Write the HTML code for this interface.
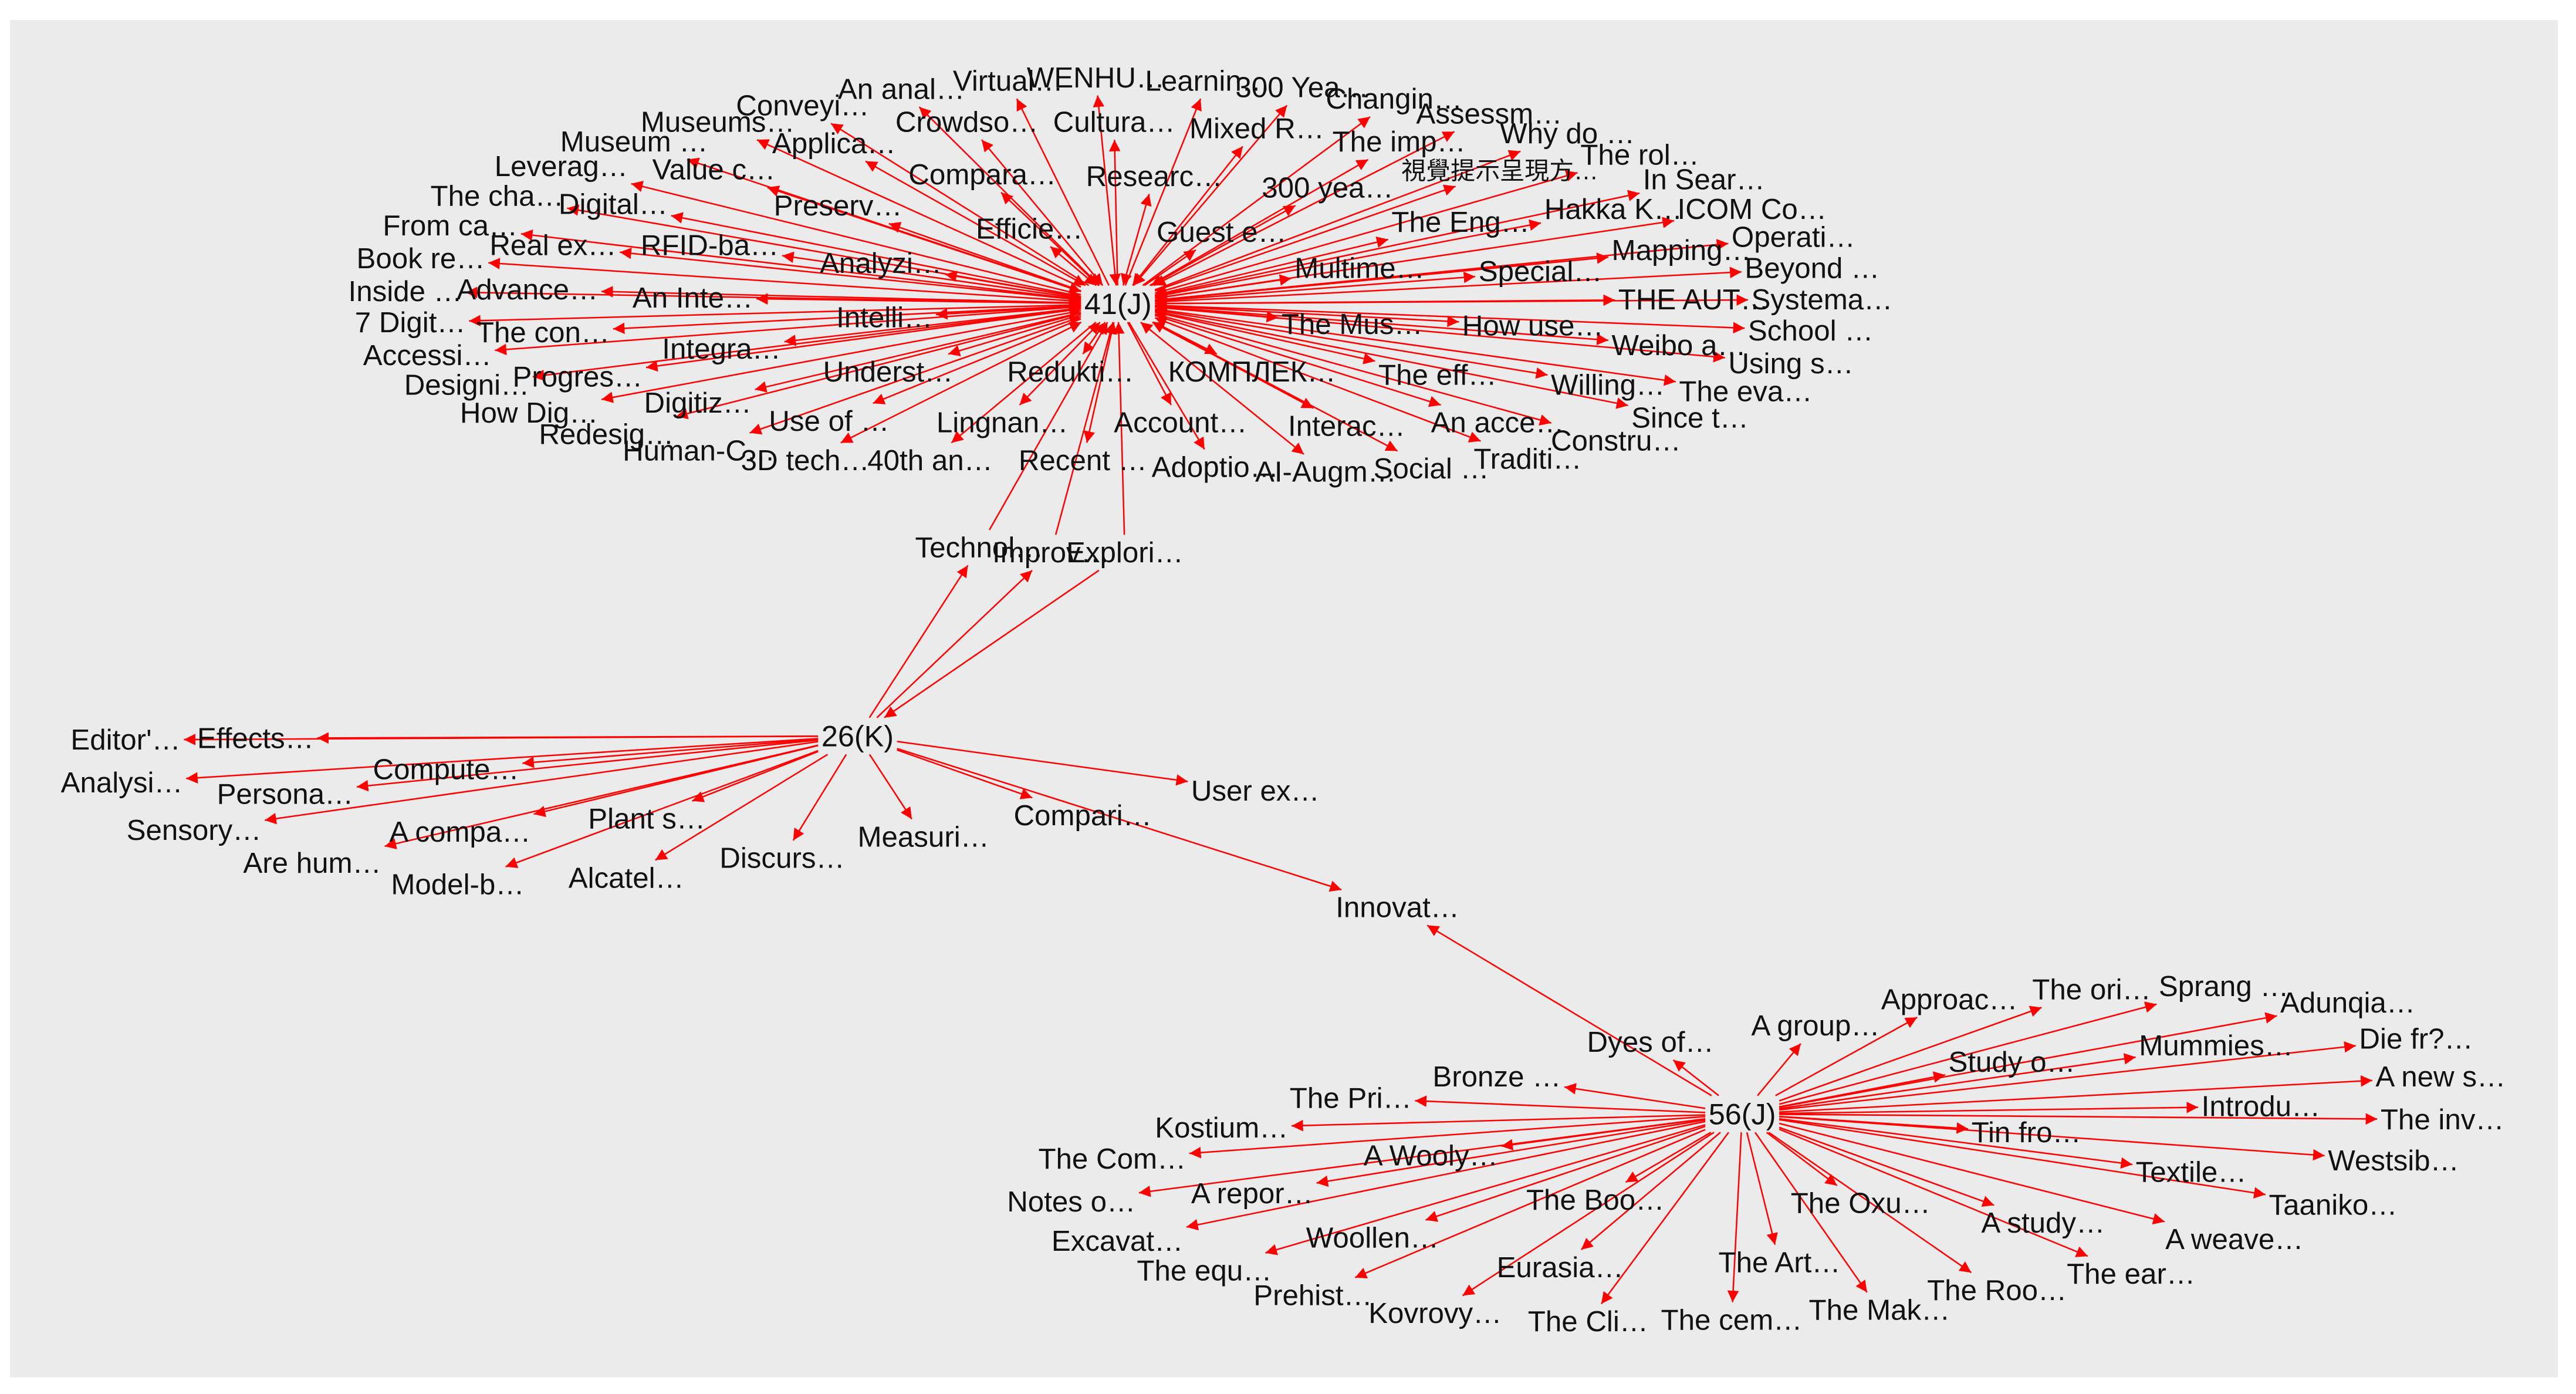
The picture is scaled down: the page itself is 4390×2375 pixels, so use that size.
<!DOCTYPE html>
<html><head><meta charset="utf-8"><style>
html,body{margin:0;padding:0;background:#fff}
svg{display:block}
text{font-family:"Liberation Sans","Noto Sans CJK TC",sans-serif;font-size:17.6px;fill:#111}
.hub{font-size:18px}
</style></head><body>
<svg id="s" width="4390" height="2375" viewBox="0 0 1568 848" xmlns="http://www.w3.org/2000/svg">
<defs>
<marker id="a" viewBox="0 0 10 10" refX="10" refY="5" markerWidth="7" markerHeight="7" orient="auto-start-reverse" markerUnits="userSpaceOnUse"><path d="M0,0 L10,5 L0,10 z" fill="#f00"/></marker>
</defs>
<rect x="6" y="12" width="1551" height="826" fill="#ebebeb"/>
<g id="lines" stroke="#f00" stroke-width="0.9" fill="none"></g>
<g id="t">
<text class="hub" id="h41" x="660" y="191">41(J)</text>
<text class="hub" id="h26" x="500" y="454">26(K)</text>
<text class="hub" id="h56" x="1040" y="684">56(J)</text>
<text id="technol" x="557" y="339">Technol…</text>
<text id="improv" x="604" y="342">Improv…</text>
<text id="explori" x="649" y="342">Explori…</text>
<text id="innovat" x="813" y="558">Innovat…</text>

<text class="c41" x="510" y="60">An anal…</text>
<text class="c41" x="580" y="55">Virtual…</text>
<text class="c41" x="625" y="53">WENHU…</text>
<text class="c41" x="697" y="55">Learnin…</text>
<text class="c41" x="752" y="59">300 Yea…</text>
<text class="c41" x="448" y="70">Conveyi…</text>
<text class="c41" x="545" y="80">Crowdso…</text>
<text class="c41" x="641" y="80">Cultura…</text>
<text class="c41" x="724" y="84">Mixed R…</text>
<text class="c41" x="807" y="66">Changin…</text>
<text class="c41" x="862" y="75">Assessm…</text>
<text class="c41" x="390" y="80">Museums…</text>
<text class="c41" x="470" y="93">Applica…</text>
<text class="c41" x="913" y="87">Why do …</text>
<text class="c41" x="341" y="92">Museum …</text>
<text class="c41" x="811" y="92">The imp…</text>
<text class="c41" x="962" y="100">The rol…</text>
<text class="c41" x="301" y="107">Leverag…</text>
<text class="c41" x="397" y="109">Value c…</text>
<text class="c41" x="553" y="112">Compara…</text>
<text class="c41" x="661" y="113">Researc…</text>
<text class="c41" x="853" y="109" style="font-size:15px">視覺提示呈現方…</text>
<text class="c41" x="1000" y="115">In Sear…</text>
<text class="c41" x="262" y="125">The cha…</text>
<text class="c41" x="340" y="130">Digital…</text>
<text class="c41" x="471" y="131">Preserv…</text>
<text class="c41" x="768" y="120">300 yea…</text>
<text class="c41" x="940" y="133">Hakka K…</text>
<text class="c41" x="1021" y="133">ICOM Co…</text>
<text class="c41" x="233" y="143">From ca…</text>
<text class="c41" x="594" y="145">Efficie…</text>
<text class="c41" x="704" y="147">Guest e…</text>
<text class="c41" x="847" y="141">The Eng…</text>
<text class="c41" x="1054" y="150">Operati…</text>
<text class="c41" x="217" y="163">Book re…</text>
<text class="c41" x="298" y="155">Real ex…</text>
<text class="c41" x="390" y="155">RFID-ba…</text>
<text class="c41" x="499" y="166">Analyzi…</text>
<text class="c41" x="981" y="158">Mapping…</text>
<text class="c41" x="788" y="169">Multime…</text>
<text class="c41" x="900" y="171">Special…</text>
<text class="c41" x="1062" y="169">Beyond …</text>
<text class="c41" x="212" y="183">Inside …</text>
<text class="c41" x="278" y="182">Advance…</text>
<text class="c41" x="385" y="187">An Inte…</text>
<text class="c41" x="985" y="188">THE AUT…</text>
<text class="c41" x="1066" y="188">Systema…</text>
<text class="c41" x="216" y="202">7 Digit…</text>
<text class="c41" x="290" y="208">The con…</text>
<text class="c41" x="509" y="199">Intelli…</text>
<text class="c41" x="780" y="203">The Mus…</text>
<text class="c41" x="890" y="204">How use…</text>
<text class="c41" x="1064" y="207">School …</text>
<text class="c41" x="221" y="222">Accessi…</text>
<text class="c41" x="403" y="218">Integra…</text>
<text class="c41" x="981" y="216">Weibo a…</text>
<text class="c41" x="1052" y="227">Using s…</text>
<text class="c41" x="246" y="240">Designi…</text>
<text class="c41" x="312" y="235">Progres…</text>
<text class="c41" x="501" y="232">Underst…</text>
<text class="c41" x="613" y="232">Redukti…</text>
<text class="c41" x="711" y="232">КОМПЛЕК…</text>
<text class="c41" x="839" y="234">The eff…</text>
<text class="c41" x="944" y="240">Willing…</text>
<text class="c41" x="1022" y="244">The eva…</text>
<text class="c41" x="392" y="251">Digitiz…</text>
<text class="c41" x="280" y="257">How Dig…</text>
<text class="c41" x="468" y="262">Use of …</text>
<text class="c41" x="570" y="263">Lingnan…</text>
<text class="c41" x="678" y="263">Account…</text>
<text class="c41" x="784" y="265">Interac…</text>
<text class="c41" x="871" y="263">An acce…</text>
<text class="c41" x="993" y="260">Since t…</text>
<text class="c41" x="328" y="270">Redesig…</text>
<text class="c41" x="379" y="280">Human-C…</text>
<text class="c41" x="944" y="274">Constru…</text>
<text class="c41" x="451" y="286">3D tech…</text>
<text class="c41" x="528" y="286">40th an…</text>
<text class="c41" x="620" y="286">Recent …</text>
<text class="c41" x="701" y="290">Adoptio…</text>
<text class="c41" x="764" y="293">AI-Augm…</text>
<text class="c41" x="836" y="291">Social …</text>
<text class="c41" x="897" y="285">Traditi…</text>

<text class="c26" x="43" y="456">Editor'…</text>
<text class="c26" x="120" y="455">Effects…</text>
<text class="c26" x="37" y="482">Analysi…</text>
<text class="c26" x="227" y="474">Compute…</text>
<text class="c26" x="132" y="489">Persona…</text>
<text class="c26" x="77" y="511">Sensory…</text>
<text class="c26" x="237" y="512">A compa…</text>
<text class="c26" x="358" y="504">Plant s…</text>
<text class="c26" x="148" y="531">Are hum…</text>
<text class="c26" x="238" y="544">Model-b…</text>
<text class="c26" x="346" y="540">Alcatel…</text>
<text class="c26" x="438" y="528">Discurs…</text>
<text class="c26" x="522" y="515">Measuri…</text>
<text class="c26" x="617" y="502">Compari…</text>
<text class="c26" x="725" y="487">User ex…</text>

<text class="c56" x="966" y="640">Dyes of…</text>
<text class="c56" x="1066" y="630">A group…</text>
<text class="c56" x="1145" y="614">Approac…</text>
<text class="c56" x="1237" y="608">The ori…</text>
<text class="c56" x="1314" y="606">Sprang …</text>
<text class="c56" x="1388" y="616">Adunqia…</text>
<text class="c56" x="872" y="661">Bronze …</text>
<text class="c56" x="1186" y="652">Study o…</text>
<text class="c56" x="1302" y="642">Mummies…</text>
<text class="c56" x="1436" y="638">Die fr?…</text>
<text class="c56" x="785" y="674">The Pri…</text>
<text class="c56" x="1446" y="661">A new s…</text>
<text class="c56" x="703" y="692">Kostium…</text>
<text class="c56" x="1340" y="679">Introdu…</text>
<text class="c56" x="1449" y="687">The inv…</text>
<text class="c56" x="1200" y="695">Tin fro…</text>
<text class="c56" x="632" y="711">The Com…</text>
<text class="c56" x="830" y="709">A Wooly…</text>
<text class="c56" x="1417" y="712">Westsib…</text>
<text class="c56" x="1300" y="719">Textile…</text>
<text class="c56" x="725" y="732">A repor…</text>
<text class="c56" x="929" y="736">The Boo…</text>
<text class="c56" x="613" y="737">Notes o…</text>
<text class="c56" x="1090" y="738">The Oxu…</text>
<text class="c56" x="1381" y="739">Taaniko…</text>
<text class="c56" x="1206" y="750">A study…</text>
<text class="c56" x="1318" y="760">A weave…</text>
<text class="c56" x="640" y="761">Excavat…</text>
<text class="c56" x="795" y="759">Woollen…</text>
<text class="c56" x="692" y="779">The equ…</text>
<text class="c56" x="911" y="777">Eurasia…</text>
<text class="c56" x="1046" y="774">The Art…</text>
<text class="c56" x="1258" y="781">The ear…</text>
<text class="c56" x="763" y="794">Prehist…</text>
<text class="c56" x="1173" y="791">The Roo…</text>
<text class="c56" x="833" y="805">Kovrovy…</text>
<text class="c56" x="1101" y="803">The Mak…</text>
<text class="c56" x="930" y="810">The Cli…</text>
<text class="c56" x="1011" y="809">The cem…</text>
</g>
</svg>
<script>
(function(){
var NS="http://www.w3.org/2000/svg",L=document.getElementById("lines");
function box(el){var b=el.getBBox();return {cx:b.x+b.width/2,cy:b.y+b.height/2,hw:b.width/2+2,hh:b.height/2+1};}
function edgePt(b,tx,ty){var dx=tx-b.cx,dy=ty-b.cy;var t=Math.min(dx?b.hw/Math.abs(dx):1e9,dy?b.hh/Math.abs(dy):1e9);if(t>1)t=1;return [b.cx+dx*t,b.cy+dy*t];}
function edge(a,b,both){var A=box(a),B=box(b);var p=edgePt(A,B.cx,B.cy),q=edgePt(B,A.cx,A.cy);
var l=document.createElementNS(NS,"line");l.setAttribute("x1",p[0]);l.setAttribute("y1",p[1]);l.setAttribute("x2",q[0]);l.setAttribute("y2",q[1]);
l.setAttribute("marker-end","url(#a)");if(both)l.setAttribute("marker-start","url(#a)");L.appendChild(l);}
var g=function(i){return document.getElementById(i)};
[["c41","h41"],["c26","h26"],["c56","h56"]].forEach(function(p){
var hub=g(p[1]);var els=document.getElementsByClassName(p[0]);var i=0;
Array.prototype.forEach.call(els,function(e){edge(hub,e,p[0]=="c41"&&(i++%2==0));});});
edge(g("technol"),g("h41"));edge(g("improv"),g("h41"));edge(g("explori"),g("h41"));
edge(g("h26"),g("technol"));edge(g("h26"),g("improv"));edge(g("explori"),g("h26"));
edge(g("h26"),g("innovat"));edge(g("h56"),g("innovat"));
})();
</script>
</body></html>
